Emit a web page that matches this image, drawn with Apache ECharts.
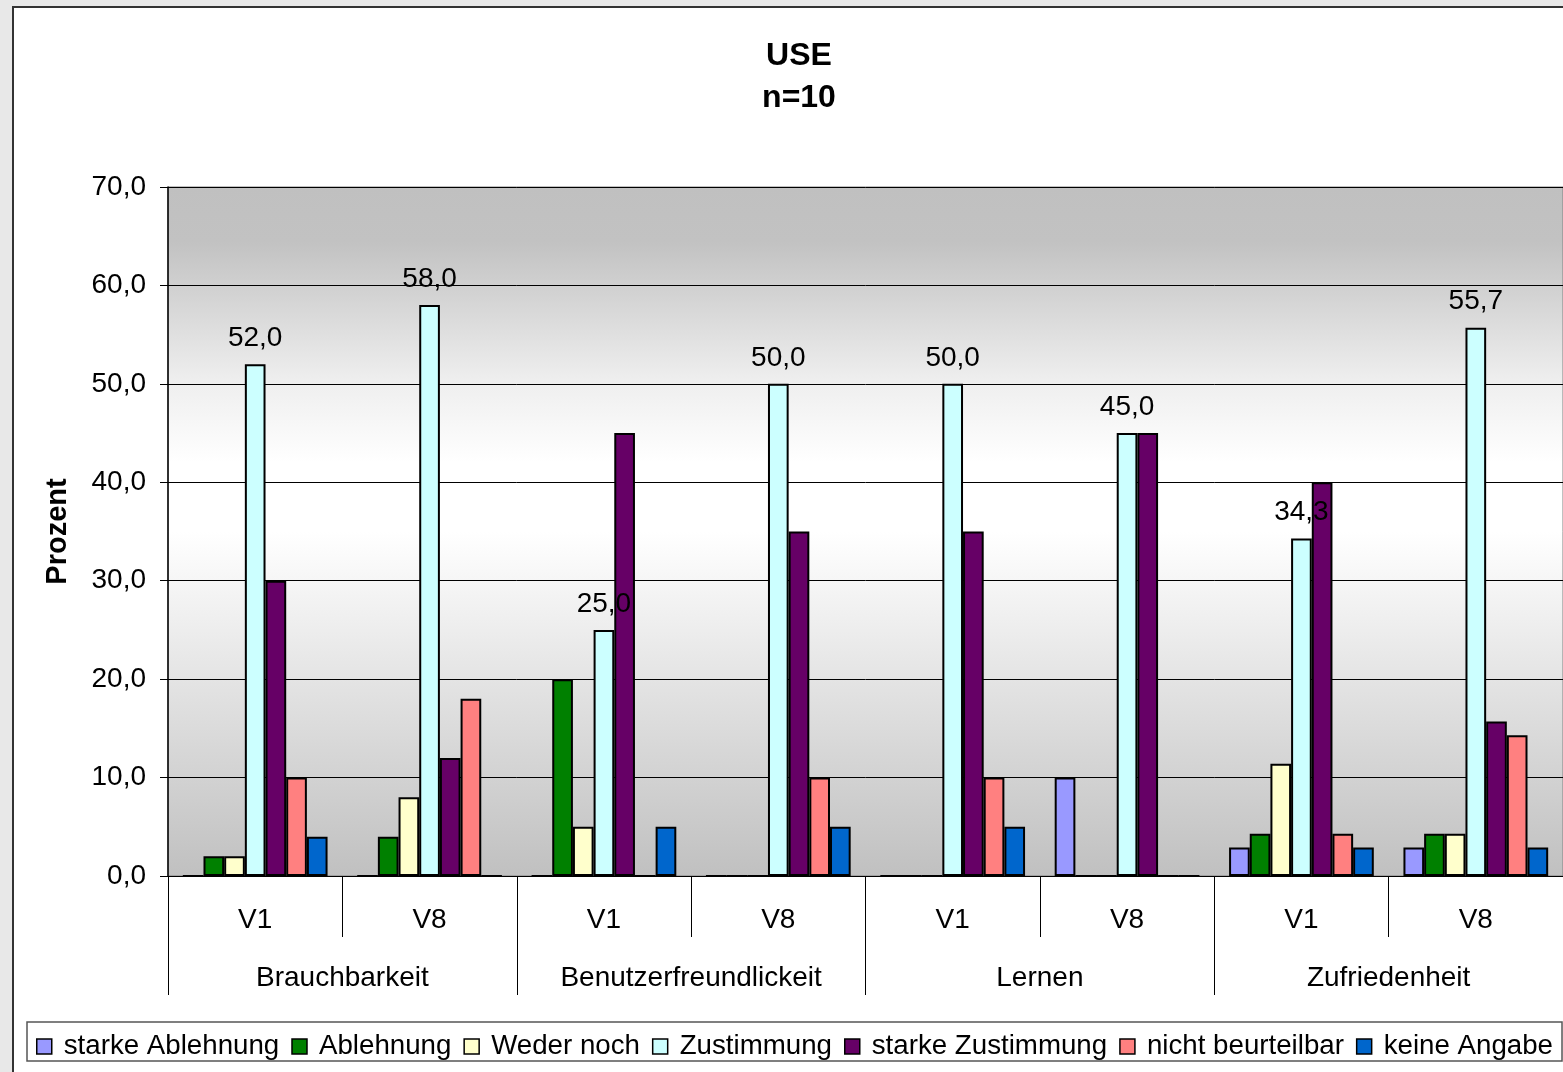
<!DOCTYPE html>
<html>
<head>
<meta charset="utf-8">
<script src="https://cdn.jsdelivr.net/npm/echarts@6/dist/echarts.min.js"></script>
<style>
html,body{margin:0;padding:0;background:#e8e8e8;overflow:hidden;}
#chart{width:1563px;height:1072px;}
</style>
</head>
<body>
<div id="chart"></div>
<script>
const subCategories = ['V1','V8','V1','V8','V1','V8','V1','V8'];
const groupCategories = ['Brauchbarkeit','Benutzerfreundlickeit','Lernen','Zufriedenheit'];
const yTicks = [0,10,20,30,40,50,60,70];

const starkeAblehnung  = [0, 0, 0, 0, 0, 10, 2.9, 2.9];
const ablehnung        = [2, 4, 20, 0, 0, 0, 4.3, 4.3];
const wederNoch        = [2, 8, 5, 0, 0, 0, 11.4, 4.3];
const zustimmung       = [52, 58, 25, 50, 50, 45, 34.3, 55.7];
const starkeZustimmung = [30, 12, 45, 35, 35, 45, 40, 15.7];
const nichtBeurteilbar = [10, 18, 0, 10, 10, 0, 4.3, 14.3];
const keineAngabe      = [4, 0, 5, 5, 5, 0, 2.9, 2.9];

const seriesNames = ['starke Ablehnung','Ablehnung','Weder noch','Zustimmung','starke Zustimmung','nicht beurteilbar','keine Angabe'];
const seriesData = [starkeAblehnung, ablehnung, wederNoch, zustimmung, starkeZustimmung, nichtBeurteilbar, keineAngabe];
const seriesColors = ['#9999ff','#008000','#ffffcc','#ccffff','#660066','#ff8080','#0066cc'];

const FONT = '"Liberation Sans", Arial, sans-serif';
const fmt = v => Number(v).toFixed(1).replace('.', ',');

const chart = echarts.init(document.getElementById('chart'));
const series = seriesNames.map((name, i) => ({
  name: name,
  type: 'bar',
  xAxisIndex: 0,
  data: seriesData[i],
  barGap: '0%',
  barCategoryGap: '17%',
  itemStyle: { color: seriesColors[i], borderColor: '#000', borderWidth: 2 },
  label: name === 'Zustimmung' ? {
    show: true, position: 'top', distance: 12,
    fontFamily: FONT, fontSize: 28, color: '#000',
    formatter: p => fmt(p.value)
  } : { show: false },
  emphasis: { disabled: true }
}));

chart.setOption({
  backgroundColor: '#e8e8e8',
  animation: false,
  textStyle: { fontFamily: FONT },
  graphic: [{
    type: 'rect', z: -10,
    shape: { x: 13, y: 7, width: 1700, height: 1200 },
    style: { fill: '#ffffff', stroke: '#333333', lineWidth: 2 }
  }],
  title: {
    text: 'USE\nn=10',
    left: 799, top: 35, textAlign: 'center', padding: 0,
    textStyle: { fontFamily: FONT, fontSize: 32, fontWeight: 'bold', color: '#000', lineHeight: 42 }
  },
  legend: {
    left: 27, top: 1022, width: 1700,
    padding: [10, 9, 0, 9],
    itemGap: 12, itemWidth: 15, itemHeight: 15,
    borderColor: '#555', borderWidth: 1.5,
    backgroundColor: '#fff',
    icon: 'rect',
    itemStyle: { borderColor: '#000', borderWidth: 1.5 },
    textStyle: { fontFamily: FONT, fontSize: 27.7, color: '#000', lineHeight: 29, padding: [0, 0, 0, 7] },
    data: seriesNames
  },
  grid: {
    left: 168, top: 187, right: 0, bottom: 196,
    show: true, borderColor: '#808080', borderWidth: 1,
    backgroundColor: { type: 'linear', x: 0, y: 0, x2: 0, y2: 1, colorStops: [
      { offset: 0, color: '#c0c0c0' },
      { offset: 0.08, color: '#c2c2c2' },
      { offset: 0.28, color: '#eeeeee' },
      { offset: 0.4, color: '#ffffff' },
      { offset: 0.5, color: '#ffffff' },
      { offset: 1, color: '#c0c0c0' }
    ] }
  },
  xAxis: [{
    type: 'category', data: subCategories, position: 'bottom',
    axisLine: { show: true, lineStyle: { color: '#000', width: 1 } },
    axisTick: { show: true, interval: 0, length: 61, lineStyle: { color: '#000', width: 1 } },
    axisLabel: { fontFamily: FONT, fontSize: 28, color: '#000', margin: 30, interval: 0 },
    splitLine: { show: false }
  }, {
    type: 'category', data: groupCategories, position: 'bottom',
    axisLine: { show: true, lineStyle: { color: '#000', width: 1 } },
    axisTick: { show: true, interval: 0, length: 119, lineStyle: { color: '#000', width: 1 } },
    axisLabel: { fontFamily: FONT, fontSize: 28, color: '#000', margin: 88, interval: 0 },
    splitLine: { show: false }
  }],
  yAxis: {
    type: 'value', min: yTicks[0], max: yTicks[yTicks.length - 1], interval: 10,
    name: 'Prozent', nameLocation: 'middle', nameGap: 96, nameRotate: 90,
    nameTextStyle: { fontFamily: FONT, fontSize: 29, fontWeight: 'bold', color: '#000' },
    axisLine: { show: true, lineStyle: { color: '#000', width: 1.5 } },
    axisTick: { show: true, length: 8, lineStyle: { color: '#000' } },
    axisLabel: { fontFamily: FONT, fontSize: 28, color: '#000', margin: 22, formatter: v => fmt(v) },
    splitLine: { show: true, lineStyle: { color: '#000', width: 1 } }
  },
  series: series
});
</script>
</body>
</html>
